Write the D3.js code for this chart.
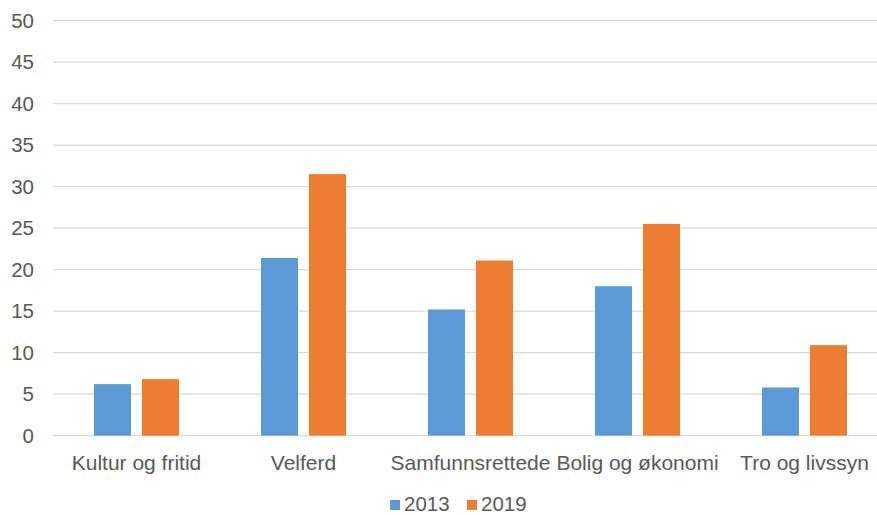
<!DOCTYPE html>
<html><head><meta charset="utf-8">
<script src="https://cdn.jsdelivr.net/npm/d3@7"></script>
<style>body{margin:0;background:#fff}svg{display:block;font-family:"Liberation Sans",Arial,sans-serif}</style>
</head><body><svg id="c" width="877" height="515"></svg>
<script>
const categories = ["Kultur og fritid","Velferd","Samfunnsrettede","Bolig og økonomi","Tro og livssyn"];
const seriesNames = ["2013","2019"];
const values2013 = [6.2,21.4,15.2,18.0,5.8];
const values2019 = [6.8,31.5,21.1,25.5,10.9];
const yTicks = [0,5,10,15,20,25,30,35,40,45,50];
const colors = ["#5B9BD5","#ED7D31"];

(function(){
const svg = d3.select("#c");
const pLeft = 53, pRight = 888, pTop = 20.6, pBottom = 435.6;
const x = d3.scaleBand().domain(categories).range([pLeft,pRight]);
const y = d3.scaleLinear().domain([0,50]).range([pBottom,pTop]);
const barW = 37, gap = 11;

svg.append("g").selectAll("line").data(yTicks).join("line")
  .attr("x1",pLeft).attr("x2",877).attr("y1",d=>y(d)).attr("y2",d=>y(d))
  .attr("stroke","#D9D9D9").attr("stroke-width",1.3);

svg.append("g").selectAll("text").data(yTicks).join("text")
  .attr("x",34).attr("y",d=>y(d)).attr("dy","0.35em").attr("text-anchor","end")
  .attr("font-size",20.5).attr("fill","#595959").text(d=>d);

const data = [values2013, values2019];
data.forEach((vals,i)=>{
  svg.append("g").selectAll("rect").data(categories).join("rect")
    .attr("x",d=>x(d)+x.bandwidth()/2-(barW*2+gap)/2+i*(barW+gap))
    .attr("width",barW)
    .attr("y",(d,j)=>y(vals[j]))
    .attr("height",(d,j)=>pBottom-y(vals[j]))
    .attr("fill",colors[i]);
});

svg.append("g").selectAll("text").data(categories).join("text")
  .attr("x",d=>x(d)+x.bandwidth()/2).attr("y",469.5).attr("text-anchor","middle")
  .attr("font-size",21).attr("fill","#595959").text(d=>d);

const leg = svg.append("g");
const lx = [390,467];
seriesNames.forEach((s,i)=>{
  leg.append("rect").attr("x",lx[i]).attr("y",500).attr("width",10).attr("height",10).attr("fill",colors[i]);
  leg.append("text").attr("x",lx[i]+14).attr("y",510.5).attr("font-size",20.5).attr("fill","#595959").text(s);
});
})();
</script></body></html>
